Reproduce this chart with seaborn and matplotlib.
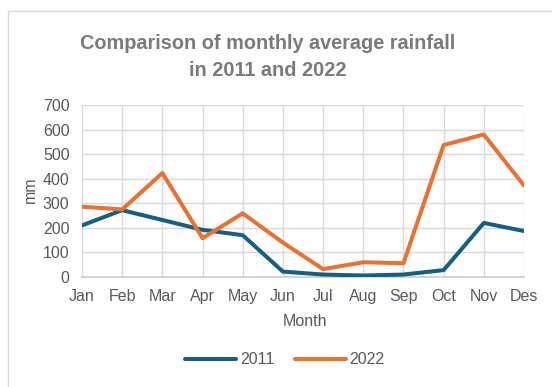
import matplotlib
matplotlib.use("Agg")
import matplotlib.pyplot as plt
from matplotlib.patches import Rectangle
from matplotlib.lines import Line2D
import seaborn as sns
import pandas as pd

months = ["Jan", "Feb", "Mar", "Apr", "May", "Jun", "Jul", "Aug", "Sep", "Oct", "Nov", "Des"]
rain_2011 = [210, 272, 232, 192, 170, 22, 10, 6, 10, 28, 220, 187]
rain_2022 = [286, 275, 423, 158, 259, 140, 32, 60, 56, 537, 580, 372]
years = ["2011", "2022"]
y_ticks = [0, 100, 200, 300, 400, 500, 600, 700]

df = pd.DataFrame({
    "Month": months * 2,
    "mm": rain_2011 + rain_2022,
    "Year": [years[0]] * len(months) + [years[1]] * len(months),
})

sns.set_theme(style="white")
plt.rcParams["font.family"] = ["Liberation Sans", "DejaVu Sans"]

text_col = "#595959"
grid_col = "#d9d9d9"
colors = {"2011": "#156082", "2022": "#E97132"}
fs = 11.5

fig = plt.figure(figsize=(5.52, 3.87), dpi=100)
ax = fig.add_axes([82 / 552, 1 - 277 / 387, (524 - 82) / 552, (277 - 105) / 387])

# outer chart frame
fig.patches.append(Rectangle((8 / 552, -0.2), 1.2, 1 - 11 / 387 + 0.2,
                             transform=fig.transFigure, fill=False,
                             edgecolor=grid_col, linewidth=1.0, zorder=0))

sns.lineplot(data=df, x="Month", y="mm", hue="Year", sort=False,
             palette=colors, linewidth=2.9, ax=ax, legend=False, zorder=3)

ax.set_xlim(0, len(months) - 1)
ax.set_ylim(0, 700)
ax.set_yticks(y_ticks)
ax.set_xticks(range(len(months)))
ax.set_xticklabels(months)
ax.grid(True, color=grid_col, linewidth=1.0)
ax.set_axisbelow(True)
for s in ["top", "right", "left"]:
    ax.spines[s].set_visible(False)
ax.spines["bottom"].set_color("#d0d0d0")
ax.spines["bottom"].set_linewidth(1.3)
ax.tick_params(axis="both", labelsize=fs, colors=text_col, length=0)
ax.tick_params(axis="x", pad=8.5)
ax.tick_params(axis="y", pad=9)

ax.set_xlabel("Month", fontsize=fs, color=text_col)
ax.set_ylabel("mm", fontsize=fs, color=text_col)
ax.xaxis.set_label_coords((305 - 82) / 442, (277 - 322) / 172)
ax.yaxis.set_label_coords((30 - 82) / 442, (277 - 190) / 172)
ax.xaxis.label.set_va("center")
ax.yaxis.label.set_va("center")

fig.text(267.5 / 552, 1 - 57 / 387, "Comparison of monthly average rainfall\nin 2011 and 2022",
         ha="center", va="center", fontsize=14.3, fontweight="bold",
         color="#7a7a7a", linespacing=1.5)

# legend
handles = [Line2D([0], [0], color=colors[y], lw=2.9, solid_capstyle="round") for y in years]
fig.legend(handles, years, loc="center", bbox_to_anchor=(285 / 552, 1 - 360 / 387),
           ncol=2, frameon=False, fontsize=fs, labelcolor=text_col,
           handlelength=3.2, handletextpad=0.25, columnspacing=1.25)

fig.savefig("out.png", dpi=100)
